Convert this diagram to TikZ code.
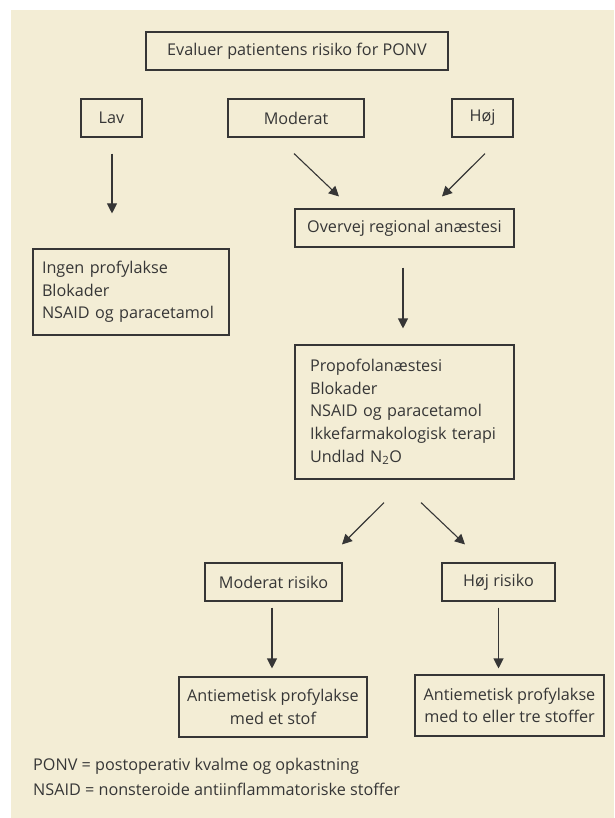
\documentclass[tikz,border=0pt]{standalone}
\usepackage{fontspec}
\setmainfont{Open Sans}
\usepackage{tikz}
\usetikzlibrary{arrows.meta,calc,positioning}
\definecolor{beige}{HTML}{F3EDD5}
\definecolor{ink}{HTML}{363636}

\begin{document}
\begin{tikzpicture}[
		x=1pt, y=-1pt,
		box/.style={draw=ink, line width=1.1pt, text=ink, inner sep=0pt, minimum height=38pt, font=\fontsize{16.2}{22.7}\selectfont},
		listbox/.style={box, align=left, inner xsep=9pt, inner ysep=0pt},
		arr/.style={-{Triangle[length=10pt, width=10pt]}, line width=1.1pt, draw=ink},
		note/.style={text=ink, anchor=west, inner sep=0pt, font=\fontsize{16.2}{23}\selectfont}
		]

		\useasboundingbox (0,0) rectangle (614,818);
		\fill[beige] (11,10) rectangle (614,818);

		% --- Risiko ---
		\node[box, minimum width=302pt] (eval) at (297,51) {Evaluer patientens risiko for PONV};
		\node[box, minimum width=61pt] (lav) at (111.5,118) {Lav};
		\node[box, minimum width=136pt] (moderat) at (296,118) {Moderat};
		\node[box, minimum width=61pt] (hoej) at (482.5,118) {Høj};

		% --- Tiltag ---
		\node[listbox, text width=178pt, minimum height=86pt] (ingen) at (131,292) {Ingen profylakse\\Blokader\\NSAID og paracetamol};
		\node[box, minimum width=219pt] (overvej) at (404.5,228) {Overvej regional anæstesi};
		\node[listbox, inner xsep=15pt, text width=189pt, minimum height=134pt] (propofol) at (404.5,412) {Propofolanæstesi\\Blokader\\NSAID og paracetamol\\Ikkefarmakologisk terapi\\Undlad N\textsubscript{2}O};

		% --- Profylakse ---
		\node[box, minimum width=137pt] (modrisk) at (273.5,582) {Moderat risiko};
		\node[box, minimum width=113pt] (hoejrisk) at (498.5,582) {Høj risiko};
		\node[box, align=center, minimum width=188pt, minimum height=60pt] (anti1) at (273,707) {Antiemetisk profylakse\\med et stof};
		\node[box, align=center, minimum width=189pt, minimum height=61pt] (anti2) at (509.5,705.5) {Antiemetisk profylakse\\med to eller tre stoffer};

		% --- Pile ---
		\draw[arr] ($(lav.south)+(0.5,16)$) -- ($(lav.south |- ingen.north)+(0.5,-35)$);
		\draw[arr] ($(moderat.south)+(-2,16)$) -- ($(overvej.north)+(-65.5,-12)$);
		\draw[arr] ($(hoej.south)+(2.5,16)$) -- ($(overvej.north)+(37.5,-12)$);
		\draw[arr] ($(overvej.south)+(-1.5,20)$) -- ($(propofol.north)+(-1.5,-16)$);
		\draw[arr] ($(propofol.south)+(-20.5,23)$) -- ($(modrisk.north)+(68.5,-18)$);
		\draw[arr] ($(propofol.south)+(16.5,23)$) -- ($(hoejrisk.north)+(-33.5,-18)$);
		\draw[arr] ($(modrisk.south)+(-1.5,6)$) -- ($(modrisk.south |- anti1.north)+(-1.5,-8)$);
		\draw[arr] ($(hoejrisk.south)+(0,6)$) -- ($(hoejrisk.south |- anti2.north)+(0,-6)$);

		% --- Forklaring ---
		\node[note] (ponv) at (33,766) {PONV = postoperativ kvalme og opkastning};
		\node[note] (nsaid) at (33,789) {NSAID = nonsteroide antiinflammatoriske stoffer};

	\end{tikzpicture}
\end{document}
